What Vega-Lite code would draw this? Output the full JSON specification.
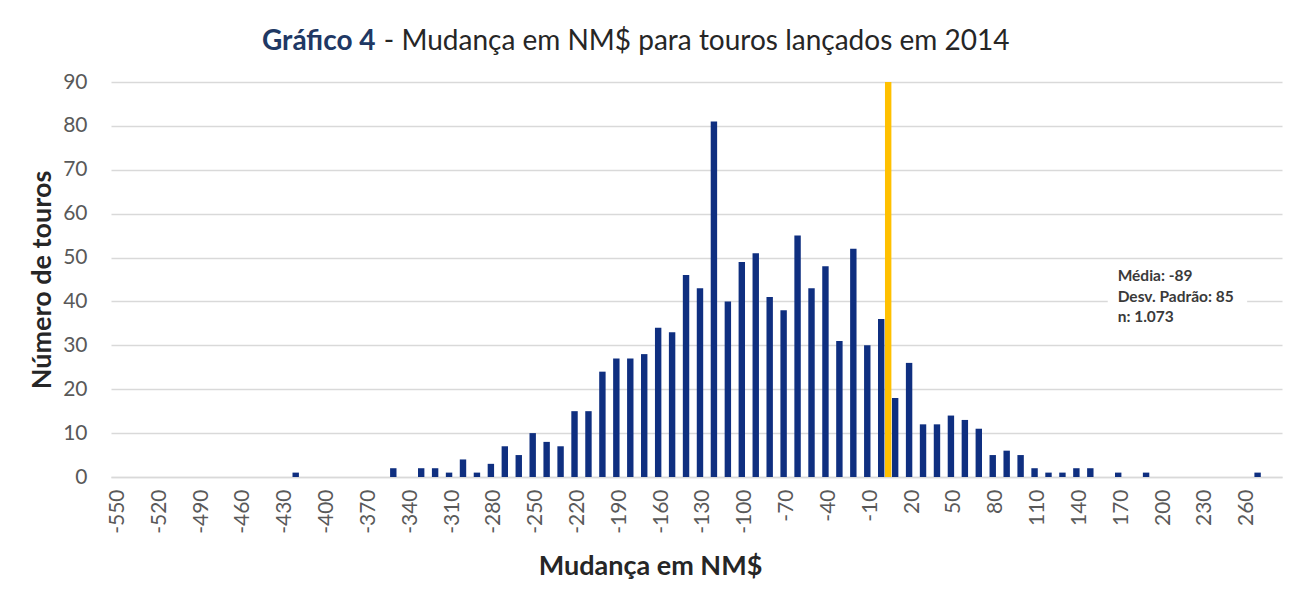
{
  "$schema": "https://vega.github.io/schema/vega-lite/v6.json",
  "width": 1171,
  "height": 395,
  "autosize": {"type": "none"},
  "padding": {"left": 111, "top": 82, "right": 17, "bottom": 127},
  "background": "white",
  "title": {
    "text": "Gráfico 4",
    "subtitle": "\u200b\u00a0\u00a0\u00a0\u00a0\u00a0\u00a0\u00a0\u00a0\u00a0\u00a0\u00a0\u00a0\u00a0\u00a0\u00a0\u00a0\u00a0- Mudança em NM$ para touros lançados em 2014",
    "anchor": "start",
    "frame": "group",
    "dx": 151,
    "offset": 15,
    "font": "Lato",
    "fontSize": 28,
    "fontWeight": "bold",
    "color": "#203864",
    "subtitleFont": "Lato",
    "subtitleFontSize": 28,
    "subtitleFontWeight": "normal",
    "subtitleColor": "#262626",
    "subtitlePadding": -28
  },
  "config": {
    "view": {"stroke": null},
    "axis": {
      "labelFont": "Lato",
      "labelFontSize": 21,
      "labelColor": "#595959",
      "titleFont": "Lato",
      "titleFontSize": 27,
      "titleFontWeight": "bold",
      "titleColor": "#262626",
      "gridColor": "#d9d9d9",
      "gridWidth": 1.5,
      "ticks": false
    }
  },
  "data": {
    "values": [
      {"bin": -420, "series": "count", "n": 1},
      {"bin": -350, "series": "count", "n": 2},
      {"bin": -330, "series": "count", "n": 2},
      {"bin": -320, "series": "count", "n": 2},
      {"bin": -310, "series": "count", "n": 1},
      {"bin": -300, "series": "count", "n": 4},
      {"bin": -290, "series": "count", "n": 1},
      {"bin": -280, "series": "count", "n": 3},
      {"bin": -270, "series": "count", "n": 7},
      {"bin": -260, "series": "count", "n": 5},
      {"bin": -250, "series": "count", "n": 10},
      {"bin": -240, "series": "count", "n": 8},
      {"bin": -230, "series": "count", "n": 7},
      {"bin": -220, "series": "count", "n": 15},
      {"bin": -210, "series": "count", "n": 15},
      {"bin": -200, "series": "count", "n": 24},
      {"bin": -190, "series": "count", "n": 27},
      {"bin": -180, "series": "count", "n": 27},
      {"bin": -170, "series": "count", "n": 28},
      {"bin": -160, "series": "count", "n": 34},
      {"bin": -150, "series": "count", "n": 33},
      {"bin": -140, "series": "count", "n": 46},
      {"bin": -130, "series": "count", "n": 43},
      {"bin": -120, "series": "count", "n": 81},
      {"bin": -110, "series": "count", "n": 40},
      {"bin": -100, "series": "count", "n": 49},
      {"bin": -90, "series": "count", "n": 51},
      {"bin": -80, "series": "count", "n": 41},
      {"bin": -70, "series": "count", "n": 38},
      {"bin": -60, "series": "count", "n": 55},
      {"bin": -50, "series": "count", "n": 43},
      {"bin": -40, "series": "count", "n": 48},
      {"bin": -30, "series": "count", "n": 31},
      {"bin": -20, "series": "count", "n": 52},
      {"bin": -10, "series": "count", "n": 30},
      {"bin": 0, "series": "count", "n": 36},
      {"bin": 10, "series": "count", "n": 18},
      {"bin": 20, "series": "count", "n": 26},
      {"bin": 30, "series": "count", "n": 12},
      {"bin": 40, "series": "count", "n": 12},
      {"bin": 50, "series": "count", "n": 14},
      {"bin": 60, "series": "count", "n": 13},
      {"bin": 70, "series": "count", "n": 11},
      {"bin": 80, "series": "count", "n": 5},
      {"bin": 90, "series": "count", "n": 6},
      {"bin": 100, "series": "count", "n": 5},
      {"bin": 110, "series": "count", "n": 2},
      {"bin": 120, "series": "count", "n": 1},
      {"bin": 130, "series": "count", "n": 1},
      {"bin": 140, "series": "count", "n": 2},
      {"bin": 150, "series": "count", "n": 2},
      {"bin": 170, "series": "count", "n": 1},
      {"bin": 190, "series": "count", "n": 1},
      {"bin": 270, "series": "count", "n": 1},
      {"bin": 0, "series": "zero", "n": 90}
    ]
  },
  "layer": [
    {
      "mark": {"type": "bar"},
      "encoding": {
        "x": {
          "field": "bin",
          "type": "ordinal",
          "scale": {
            "type": "band",
            "paddingInner": 0,
            "paddingOuter": 0,
            "domain": [-550,-540,-530,-520,-510,-500,-490,-480,-470,-460,-450,-440,-430,-420,-410,-400,-390,-380,-370,-360,-350,-340,-330,-320,-310,-300,-290,-280,-270,-260,-250,-240,-230,-220,-210,-200,-190,-180,-170,-160,-150,-140,-130,-120,-110,-100,-90,-80,-70,-60,-50,-40,-30,-20,-10,0,10,20,30,40,50,60,70,80,90,100,110,120,130,140,150,160,170,180,190,200,210,220,230,240,250,260,270,280]
          },
          "axis": {
            "values": [-550,-520,-490,-460,-430,-400,-370,-340,-310,-280,-250,-220,-190,-160,-130,-100,-70,-40,-10,20,50,80,110,140,170,200,230,260],
            "labelAngle": -90,
            "labelPadding": 12,
            "domainColor": "#d9d9d9",
            "domainWidth": 1.5,
            "title": "Mudança em NM$",
            "titleX": 539,
            "titleY": 76,
            "titleBaseline": "top"
          }
        },
        "xOffset": {
          "field": "series",
          "type": "nominal",
          "scale": {"domain": ["count", "zero"], "paddingInner": 0.08, "paddingOuter": 0.04}
        },
        "y": {
          "field": "n",
          "type": "quantitative",
          "scale": {"domain": [0, 90], "nice": false},
          "axis": {
            "values": [0,10,20,30,40,50,60,70,80,90],
            "domain": false,
            "labelPadding": 24,
            "title": "Número de touros",
            "titleX": -61,
            "titleBaseline": "alphabetic"
          }
        },
        "color": {
          "field": "series",
          "type": "nominal",
          "scale": {"domain": ["count", "zero"], "range": ["#0f2f80", "#ffc000"]},
          "legend": null
        }
      }
    },
    {
      "data": {"values": [{}]},
      "mark": {"type": "rect", "color": "white"},
      "encoding": {
        "x": {"datum": 160, "type": "ordinal", "bandPosition": 0.5},
        "x2": {"datum": 260, "bandPosition": 0.5},
        "y": {"datum": 49, "type": "quantitative"},
        "y2": {"datum": 33}
      }
    },
    {
      "data": {"values": [{}]},
      "mark": {
        "type": "text",
        "font": "Lato",
        "fontSize": 15.5,
        "fontWeight": "bold",
        "color": "#3a3a3a",
        "align": "left",
        "baseline": "middle",
        "lineBreak": "\n",
        "lineHeight": 20.5,
        "dx": -4
      },
      "encoding": {
        "x": {"datum": 170, "type": "ordinal"},
        "y": {"datum": 45.7, "type": "quantitative"},
        "text": {"value": "Média: -89\nDesv. Padrão: 85\nn: 1.073"}
      }
    }
  ]
}
